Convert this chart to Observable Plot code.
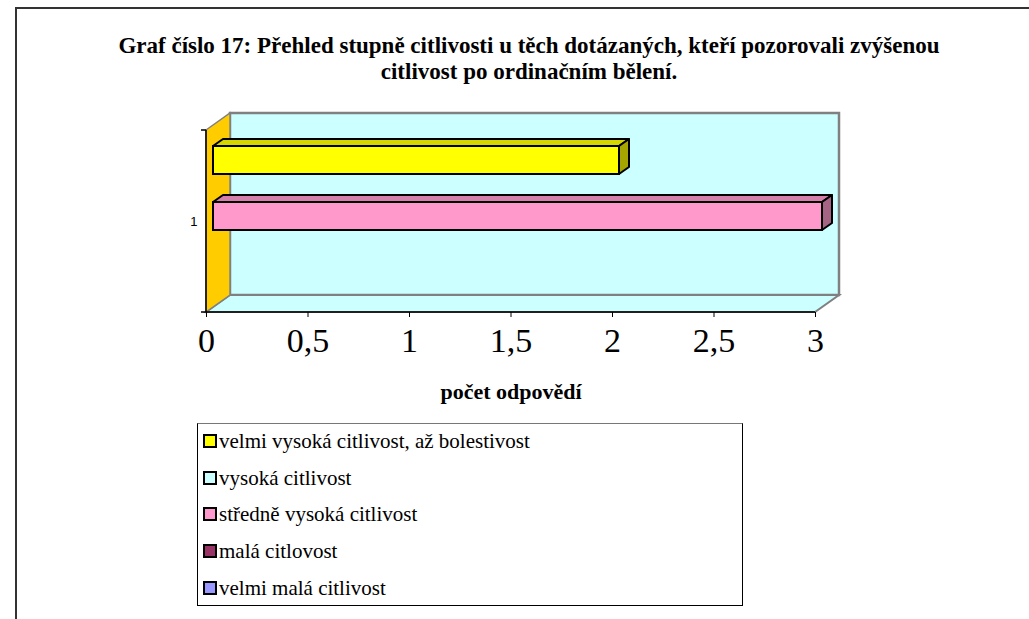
<!DOCTYPE html>
<html>
<head>
<meta charset="utf-8">
<script src="https://cdn.jsdelivr.net/npm/d3@7"></script>
<script src="https://cdn.jsdelivr.net/npm/@observablehq/plot@0.6"></script>
<style>
  html, body { margin: 0; padding: 0; background: #fff; }
  body { width: 1029px; height: 619px; position: relative; overflow: hidden; font-family: "Liberation Serif", "Times New Roman", serif; }
  #frame { position: absolute; left: 15px; top: 7px; width: 1100px; height: 700px; border-left: 2px solid #333; border-top: 2px solid #333; }
  #title { position: absolute; left: 0; width: 1058px; top: 33px; text-align: center; font-weight: bold; font-size: 23px; line-height: 26px; color: #000; }
  #chart { position: absolute; left: 0; top: 100px; }
  #legend { position: absolute; left: 197px; top: 423px; width: 544px; height: 181px; border: 1px solid #000; border-top-color: #777; }
  .item { position: absolute; left: 5px; height: 22px; font-size: 21px; line-height: 22px; white-space: nowrap; }
  .sw { display: inline-block; width: 10px; height: 10px; border: 2px solid #000; vertical-align: 0px; margin-right: 2px; }
</style>
</head>
<body>
<div id="frame"></div>
<div id="title">Graf číslo 17: Přehled stupně citlivosti u těch dotázaných, kteří pozorovali zvýšenou<br>citlivost po ordinačním bělení.</div>
<div id="chart"></div>
<div id="legend"></div>
<script>
// ---- data ----
const series = [
  "velmi vysoká citlivost, až bolestivost",
  "vysoká citlivost",
  "středně vysoká citlivost",
  "malá citlovost",
  "velmi malá citlivost"
];
const values = [2, 0, 3, 0, 0];
const colors = ["#FFFF00", "#CCFFFF", "#FF99CC", "#993366", "#9999FF"];
const xTicks = [0, 0.5, 1, 1.5, 2, 2.5, 3];
const categoryLabels = ["1"];
const xLabel = "počet odpovědí";

const rows = series.map((s, i) => ({series: s, value: values[i], color: colors[i]}));

// 3D geometry (pixels)
const DX = 24, DY = -17;      // depth of the plot box
const BX = 7, BY = -5;        // bar front offset from front plane
const FX = 10, FY = -7;       // bar depth

const fmt = d => String(d).replace(".", ",");

const walls = Plot.frame({
  render: (index, scales, values, dims) => {
    const x0 = scales.x(0), x1 = scales.x(d3.max(xTicks));
    const top = dims.marginTop, bot = dims.height - dims.marginBottom;
    const g = d3.create("svg:g");
    g.append("rect").attr("x", x0 + DX).attr("y", top + DY)
      .attr("width", x1 - x0).attr("height", bot - top)
      .attr("fill", "#CCFFFF").attr("stroke", "#808080").attr("stroke-width", 2.5);
    g.append("polygon").attr("points", [[x0, bot], [x0 + DX, bot + DY], [x1 + DX, bot + DY], [x1, bot]].join(" "))
      .attr("fill", "#CCFFFF").attr("stroke", "#808080").attr("stroke-width", 2);
    g.append("polygon").attr("points", [[x0, top], [x0 + DX, top + DY], [x0 + DX, bot + DY], [x0, bot]].join(" "))
      .attr("fill", "#FFCC00").attr("stroke", "#808080").attr("stroke-width", 1.5);
    g.append("line").attr("x1", x0).attr("x2", x0).attr("y1", top).attr("y2", bot).attr("stroke", "#000").attr("stroke-width", 1.5);
    g.append("line").attr("x1", x0).attr("x2", x1).attr("y1", bot).attr("y2", bot).attr("stroke", "#000").attr("stroke-width", 1.5);
    for (const y of [top, bot]) {
      g.append("line").attr("x1", x0 - 5).attr("x2", x0).attr("y1", y).attr("y2", y).attr("stroke", "#000").attr("stroke-width", 1.5);
    }
    return g.node();
  }
});

const bars = Plot.barX(rows, {
  filter: d => d.value > 0,
  x: "value",
  y: "series",
  fill: "color",
  stroke: "#000",
  strokeWidth: 2,
  dx: BX,
  dy: BY,
  render: (index, scales, values, dims, ctx, next) => {
    const g = next(index, scales, values, dims, ctx);
    const sel = d3.select(g);
    const rects = sel.selectAll("rect").nodes();
    for (const r of rects) {
      const x1 = +r.getAttribute("x"), w = +r.getAttribute("width");
      const y1 = +r.getAttribute("y"), h = +r.getAttribute("height");
      const x2 = x1 + w, y2 = y1 + h;
      const c = d3.color(r.getAttribute("fill"));
      const parent = d3.select(r.parentNode);
      parent.append("polygon")
        .attr("points", [[x1, y1], [x1 + FX, y1 + FY], [x2 + FX, y1 + FY], [x2, y1]].join(" "))
        .attr("fill", c.darker(0.5)).attr("stroke", "#000").attr("stroke-width", 2).attr("stroke-linejoin", "round");
      parent.append("polygon")
        .attr("points", [[x2, y1], [x2 + FX, y1 + FY], [x2 + FX, y2 + FY], [x2, y2]].join(" "))
        .attr("fill", c.darker(1.2)).attr("stroke", "#000").attr("stroke-width", 2).attr("stroke-linejoin", "round");
    }
    return g;
  }
});

const plot = Plot.plot({
  width: 1029,
  height: 320,
  marginLeft: 206,
  marginRight: 214,
  marginTop: 30,
  marginBottom: 108,
  style: {fontFamily: "'Liberation Serif', 'Times New Roman', serif", background: "transparent", overflow: "visible"},
  x: {domain: [0, 3], ticks: xTicks, tickFormat: fmt},
  y: {domain: series, paddingInner: 0, paddingOuter: 0.75, axis: null},
  color: {type: "identity"},
  marks: [
    walls,
    bars,
    Plot.axisX({ticks: xTicks, tickFormat: fmt, tickSize: 5, tickPadding: 10, fontSize: 34, label: null, stroke: "#000"}),
    Plot.text(categoryLabels, {text: d => d, frameAnchor: "left", dx: -9, textAnchor: "end", fontSize: 13, fontFamily: "'Liberation Sans', Arial, sans-serif"}),
    Plot.text([xLabel], {text: d => d, frameAnchor: "bottom", dy: 86, fontSize: 22, fontWeight: "bold"})
  ]
});
document.getElementById("chart").appendChild(plot);

// legend
const legend = d3.select("#legend");
series.forEach((s, i) => {
  const it = legend.append("div").attr("class", "item").style("top", (i * 36.7 + 6) + "px");
  it.append("span").attr("class", "sw").style("background", colors[i]);
  it.append("span").text(s);
});
</script>
</body>
</html>
